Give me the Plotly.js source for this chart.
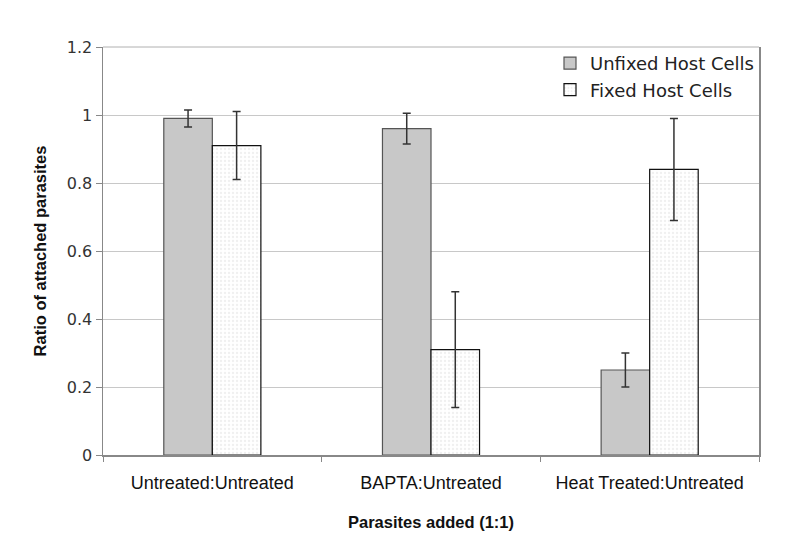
<!DOCTYPE html>
<html>
<head>
<meta charset="utf-8">
<script src="https://cdn.plot.ly/plotly-3.0.1.min.js"></script>
<style>html,body{margin:0;padding:0;background:#fff;}#chart{width:796px;height:550px;}</style>
</head>
<body>
<div id="chart"></div>
<script>
const categories = ["Untreated:Untreated", "BAPTA:Untreated", "Heat Treated:Untreated"];
const seriesNames = ["Unfixed Host Cells", "Fixed Host Cells"];
const unfixedValues = [0.99, 0.96, 0.25];
const unfixedErrors = [0.025, 0.045, 0.05];
const fixedValues = [0.91, 0.31, 0.84];
const fixedErrors = [0.10, 0.17, 0.15];
const yTicks = [0, 0.2, 0.4, 0.6, 0.8, 1, 1.2];
const yTickLabels = ["0", "0.2", "0.4", "0.6", "0.8", "1", "1.2"];

const errStyle = {type: 'data', visible: true, color: '#333333', thickness: 1.5, width: 4};

const traces = [
  {
    type: 'bar', name: seriesNames[0], x: categories, y: unfixedValues,
    marker: {color: '#c8c8c8', line: {color: '#555555', width: 1.2}},
    error_y: Object.assign({array: unfixedErrors}, errStyle)
  },
  {
    type: 'bar', name: seriesNames[1], x: categories, y: fixedValues,
    marker: {color: '#ffffff', line: {color: '#111111', width: 1.2},
             pattern: {shape: '.', fgcolor: '#f0f0f0', bgcolor: '#ffffff', size: 4, solidity: 0.25}},
    error_y: Object.assign({array: fixedErrors}, errStyle)
  }
];

const layout = {
  width: 796, height: 550,
  margin: {l: 103, r: 37, t: 47, b: 95},
  paper_bgcolor: '#ffffff', plot_bgcolor: '#ffffff',
  barmode: 'group', bargap: 0.556, bargroupgap: 0,
  font: {family: 'DejaVu Sans, Verdana, sans-serif', size: 16, color: '#222222'},
  xaxis: {
    showline: true, linecolor: '#888888', linewidth: 1.5,
    ticks: 'outside', tickson: 'boundaries', ticklen: 5, tickcolor: '#888888', tickwidth: 1,
    ticklabelstandoff: 11,
    tickfont: {size: 18, family: 'Liberation Sans, Arial, sans-serif', color: '#111111'},
    title: {text: 'Parasites added (1:1)', font: {family: 'Liberation Sans, Arial, sans-serif', size: 16.5, color: '#111111', weight: 'bold'}, standoff: 24},
    showgrid: false, zeroline: false
  },
  yaxis: {
    range: [0, 1.2], tickvals: yTicks, ticktext: yTickLabels,
    showline: true, linecolor: '#888888', linewidth: 1.5, mirror: true,
    ticks: 'outside', ticklen: 6, tickcolor: '#888888', tickwidth: 1,
    showgrid: true, gridcolor: '#c8c8c8', gridwidth: 1, zeroline: false,
    tickfont: {size: 16, family: 'DejaVu Sans, Verdana, sans-serif', color: '#333333'},
    title: {text: 'Ratio of attached parasites', font: {family: 'Liberation Sans, Arial, sans-serif', size: 16.5, color: '#111111', weight: 'bold'}, standoff: 16}
  },
  shapes: [
    {type: 'line', xref: 'paper', yref: 'paper', x0: 0, x1: 1, y0: 1, y1: 1, line: {color: '#b0b0b0', width: 1}}
  ],
  legend: {
    x: 1, xanchor: 'right', y: 1.005, yanchor: 'top',
    borderwidth: 0, bgcolor: 'rgba(255,255,255,0)',
    font: {size: 18, family: 'DejaVu Sans, Verdana, sans-serif', color: '#222222'},
    itemwidth: 30, tracegroupgap: 0
  },
  showlegend: true
};

Plotly.newPlot('chart', traces, layout, {displayModeBar: false, staticPlot: true});
</script>
</body>
</html>
